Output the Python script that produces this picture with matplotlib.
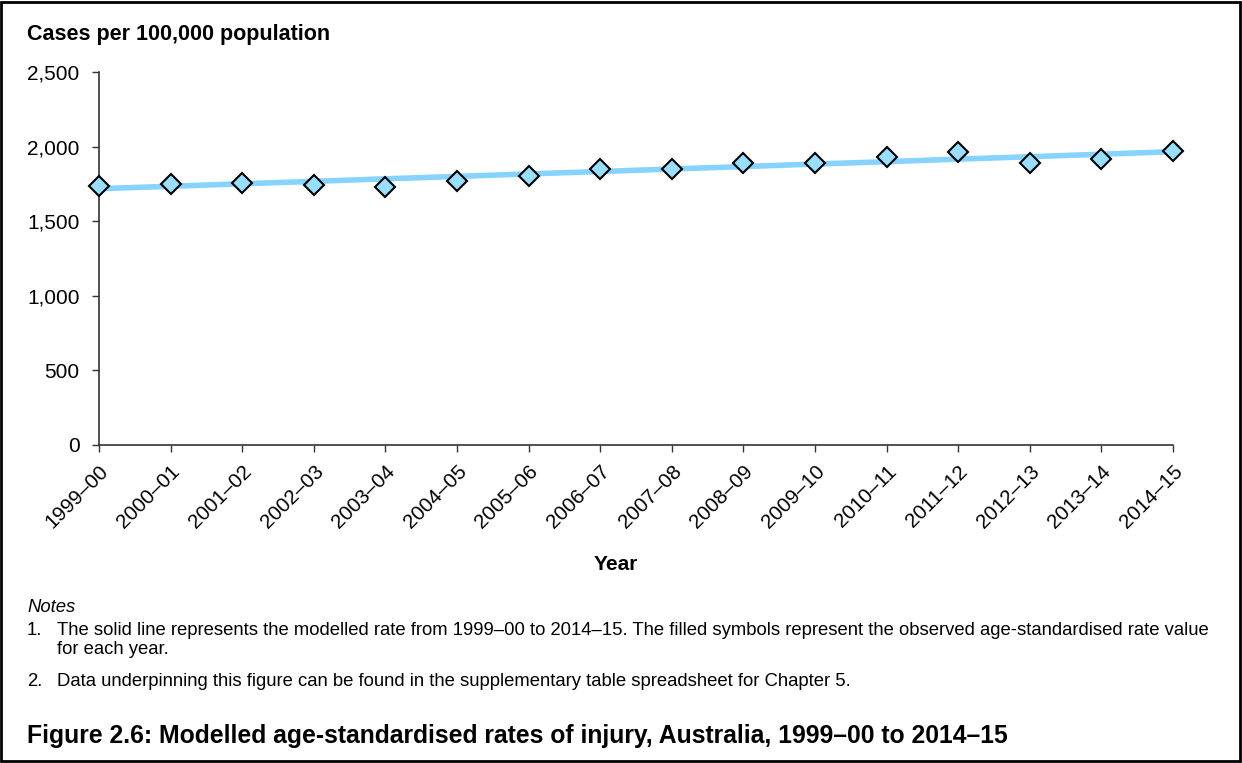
import matplotlib.pyplot as plt
from matplotlib.patches import Rectangle

plt.rcParams['font.family'] = ['Liberation Sans', 'DejaVu Sans']

years = ['1999–00', '2000–01', '2001–02', '2002–03', '2003–04', '2004–05', '2005–06', '2006–07',
         '2007–08', '2008–09', '2009–10', '2010–11', '2011–12', '2012–13', '2013–14', '2014–15']
# observed age-standardised rates (symbols)
observed = [1736, 1747, 1758, 1740, 1731, 1767, 1805, 1850,
            1848, 1890, 1888, 1928, 1962, 1888, 1917, 1971]
# modelled rate (solid line)
modelled = [1718, 1734, 1751, 1767, 1784, 1800, 1817, 1833,
            1850, 1866, 1883, 1899, 1916, 1932, 1949, 1966]

W, H = 1242, 763
fig = plt.figure(figsize=(W / 100, H / 100), dpi=100)
ax = fig.add_axes([99 / W, 1 - 445 / H, (1173 - 99) / W, (445 - 72) / H])


def fy(y):
    # pixel row -> figure fraction
    return 1 - y / H


x = list(range(len(years)))
ax.plot(x, modelled, color='#87D3FF', lw=4, solid_capstyle='butt', zorder=2, clip_on=False)
ax.plot(x, observed, ls='none', marker='D', ms=10, mfc='#99DDFF', mec='black', mew=1.5,
        zorder=3, clip_on=False)

ax.set_xlim(0, len(years) - 1)
ax.set_ylim(0, 2500)
ax.set_yticks([0, 500, 1000, 1500, 2000, 2500])
ax.set_yticklabels(['0', '500', '1,000', '1,500', '2,000', '2,500'], fontsize=15)
ax.set_xticks(x)
ax.set_xticklabels(years, rotation=45, ha='right', rotation_mode='anchor', fontsize=14.8)
ax.tick_params(axis='both', direction='out', length=5, width=1, color='#333333')
ax.tick_params(axis='y', pad=9)
ax.tick_params(axis='x', pad=7)
for side in ['top', 'right']:
    ax.spines[side].set_visible(False)
for side in ['left', 'bottom']:
    ax.spines[side].set_color('#333333')
    ax.spines[side].set_linewidth(1.2)

fig.text(616 / W, fy(570), 'Year', fontsize=15, fontweight='bold', ha='center', va='baseline')
fig.text(27 / W, fy(40), 'Cases per 100,000 population', fontsize=15.5, fontweight='bold',
         ha='left', va='baseline')

fs = 13.3
fig.text(27 / W, fy(612), 'Notes', fontsize=fs, style='italic', ha='left', va='baseline')
fig.text(27 / W, fy(635), '1.', fontsize=fs, ha='left', va='baseline')
fig.text(57 / W, fy(635), 'The solid line represents the modelled rate from 1999–00 to 2014–15. '
         'The filled symbols represent the observed age-standardised rate value', fontsize=fs,
         ha='left', va='baseline')
fig.text(57 / W, fy(654), 'for each year.', fontsize=fs, ha='left', va='baseline')
fig.text(27 / W, fy(686), '2.', fontsize=fs, ha='left', va='baseline')
fig.text(57 / W, fy(686), 'Data underpinning this figure can be found in the supplementary table '
         'spreadsheet for Chapter 5.', fontsize=fs, ha='left', va='baseline')
fig.text(27 / W, fy(743), 'Figure 2.6: Modelled age-standardised rates of injury, Australia, '
         '1999–00 to 2014–15', fontsize=17.8, fontweight='bold', ha='left', va='baseline')

fig.patches.append(Rectangle((0.001, 0.002), 0.997, 0.996, transform=fig.transFigure,
                             fill=False, edgecolor='black', lw=2))

fig.savefig('out.png', dpi=100)
